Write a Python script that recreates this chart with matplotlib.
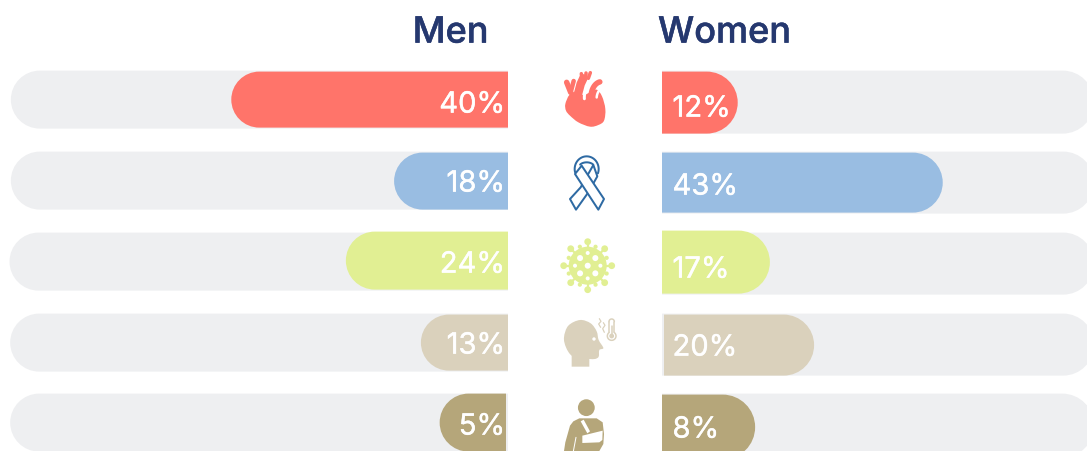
import matplotlib
matplotlib.use('Agg')
import matplotlib.pyplot as plt
import matplotlib.patheffects as pe
from matplotlib.patches import PathPatch, Polygon, Circle
from matplotlib.path import Path
import numpy as np

plt.rcParams['font.family'] = ['Inter', 'DejaVu Sans']

men_labels = ['40%', '18%', '24%', '13%', '5%']
women_labels = ['12%', '43%', '17%', '20%', '8%']
# bar lengths as drawn in the picture, they do not follow the labels exactly
men_bars = [41.3, 17.0, 24.2, 13.0, 9.9]
women_bars = [11.3, 41.9, 16.1, 22.4, 13.9]
colors = ['#FF746A', '#99BDE2', '#E1EF93', '#DAD1BC', '#B5A67A']

W, H = 1087, 452
PX = 6.7  # pixels per unit on the x axes
SHIFT = 0.6
TRACK = '#EEEFF1'
NAVY = '#25386F'

fig = plt.figure(figsize=(W / 100, H / 100), dpi=100)


def pill(ax, start, length, top, bottom, color, z=2):
    # bar square at the start, fully round at the far end
    ry = (bottom - top) / 2
    rx = ry / PX
    k = 0.5523
    end = start + length
    verts = [(start, top), (end - rx, top),
             (end - rx + k * rx, top), (end, top + ry - k * ry), (end, top + ry),
             (end, top + ry + k * ry), (end - rx + k * rx, bottom), (end - rx, bottom),
             (start, bottom), (start, top)]
    codes = [Path.MOVETO, Path.LINETO, Path.CURVE4, Path.CURVE4, Path.CURVE4,
             Path.CURVE4, Path.CURVE4, Path.CURVE4, Path.LINETO, Path.CLOSEPOLY]
    ax.add_patch(PathPatch(Path(verts, codes), fc=color, ec='none', zorder=z))


def side_axes(left, right, xlim):
    ax = fig.add_axes([left / W, 0, (right - left) / W, 1])
    ax.set_xlim(*xlim)
    ax.set_ylim(H - SHIFT, -SHIFT)
    ax.axis('off')
    return ax


ax_men = side_axes(0, 508, (508 / PX, 0))
ax_women = side_axes(662, W, (0, (W - 662) / PX))

# layout of the rows, top and bottom in pixels
men_track_y = [(71, 129), (152, 210), (233, 291), (314, 372), (394, 452)]
men_track_len = [74.2, 74.2, 74.4, 74.3, 74.3]
men_bar_y = [(72, 128), (153, 210), (232, 290), (315, 371), (394, 452)]
men_start = [0, 0, 0, 0, 0.3]
men_base = [113, 192, 273, 354, 435]
women_track_y = [(71, 134), (152, 214), (233, 295), (314, 376), (394, 458)]
women_bar_y = [(72, 134), (153, 213), (231, 294), (315, 376), (395, 460)]
women_start = [0, 0, 0, 0.3, 0]
women_base = [117, 195, 278, 356, 438]
thick = [pe.withStroke(linewidth=0.3, foreground='white')]

for i in range(5):
    pill(ax_men, 0, men_track_len[i], *men_track_y[i], TRACK, 1)
    pill(ax_men, men_start[i], men_bars[i], *men_bar_y[i], colors[i])
    ax_men.text(3 / PX, men_base[i], men_labels[i], color='white', fontsize=21,
                ha='right', va='baseline', zorder=3, path_effects=thick)
    pill(ax_women, 0, 64.5, *women_track_y[i], TRACK, 1)
    pill(ax_women, women_start[i], women_bars[i], *women_bar_y[i], colors[i])
    ax_women.text(10.5 / PX, women_base[i], women_labels[i], color='white', fontsize=21,
                  ha='left', va='baseline', zorder=3, path_effects=thick)

# overlay in pixels for the headers and icons
ov = fig.add_axes([0, 0, 1, 1], facecolor='none')
ov.set_xlim(0, W)
ov.set_ylim(H, 0)
ov.axis('off')
bold = [pe.withStroke(linewidth=0.35, foreground=NAVY)]
ov.text(488.5, 43.6, 'Men', color=NAVY, fontsize=26, fontweight='medium', ha='right', va='baseline',
        path_effects=bold)
ov.text(658, 43.6, 'Women', color=NAVY, fontsize=26, fontweight='medium', ha='left', va='baseline',
        path_effects=bold)


def blob(pts, color, ox, oy, ec='none', lw=0):
    # closed smooth shape through points taken from 3x crops
    p = np.array(pts, float) / 3 + (ox, oy)
    n = len(p)
    verts = [p[0]]
    codes = [Path.MOVETO]
    for j in range(n):
        a, b, c, d = p[j - 1], p[j], p[(j + 1) % n], p[(j + 2) % n]
        verts += [b + (c - a) / 6, c - (d - b) / 6, c]
        codes += [Path.CURVE4] * 3
    ov.add_patch(PathPatch(Path(verts, codes), fc=color, ec=ec, lw=lw, zorder=5))


def stroke(pts, color, lw, ox, oy, z=6):
    p = np.array(pts, float) / 3 + (ox, oy)
    ov.plot(p[:, 0], p[:, 1], color=color, lw=lw * 0.72, solid_capstyle='round',
            solid_joinstyle='round', zorder=z)


def poly(pts, ox, oy, fc, ec='none', lw=0, z=5):
    p = np.array(pts, float) / 3 + (ox, oy)
    ov.add_patch(Polygon(p, closed=True, fc=fc, ec=ec, lw=lw * 0.72, joinstyle='round', zorder=z))


def arc(cx, cy, rx, ry, a0, a1):
    t = np.radians(np.linspace(a0, a1, 30))
    return np.column_stack([cx + rx * np.cos(t), cy - ry * np.sin(t)])


# heart
o = (540, 60)
c = colors[0]
blob([(76, 135), (88, 108), (108, 98), (130, 108), (150, 100), (170, 92), (186, 112), (196, 150),
      (192, 185), (175, 198), (150, 203), (115, 190), (90, 170), (78, 155)], c, *o)
stroke([(92, 100), (80, 70)], c, 5.5, *o)
stroke([(92, 100), (101, 66)], c, 4.5, *o)
stroke([(114, 105), (122, 75), (130, 58)], c, 8.5, *o)
stroke([(125, 55), (124, 44)], c, 3.5, *o)
stroke([(137, 55), (137, 41)], c, 3.5, *o)
stroke([(145, 58), (151, 41)], c, 3.5, *o)
stroke(arc(178, 115, 45, 50, 110, 185), 'white', 3, *o)
stroke(arc(185, 115, 32, 47, 100, 180), c, 5.5, *o, z=7)
stroke(arc(190, 118, 20, 30, 100, 175), 'white', 2.5, *o, z=7)

# ribbon
o = (540, 60)
c = '#2E6AA3'
poly([(160, 318), (122, 385), (90, 420), (108, 452), (145, 400), (172, 352)], *o, 'white', c, 2, 5)
poly([(105, 345), (175, 452), (192, 420), (125, 320)], *o, 'white', c, 2, 6)
stroke(arc(140, 330, 36, 38, 195, -20), c, 2, *o, z=7)
stroke(arc(140, 326, 24, 16, 145, 35), c, 2, *o, z=7)

# virus
c = colors[2]
cx, cy = 587.7, 266.7
ov.add_patch(Circle((cx, cy), 19, fc=c, ec='none', zorder=5))
for a in np.arange(0, 360, 45):
    dx, dy = np.cos(np.radians(a)), np.sin(np.radians(a))
    ov.plot([cx, cx + 24 * dx], [cy, cy + 24 * dy], color=c, lw=1.6, zorder=5)
    ov.add_patch(Circle((cx + 24 * dx, cy + 24 * dy), 3.4, fc=c, ec='none', zorder=5))
    dx, dy = np.cos(np.radians(a + 22.5)), np.sin(np.radians(a + 22.5))
    ov.add_patch(Circle((cx + 20.5 * dx, cy + 20.5 * dy), 2.1, fc=c, ec='none', zorder=5))
ov.add_patch(Circle((cx, cy), 3, fc='white', ec='none', zorder=6))
for a in (45, 135, 225, 315):
    ov.add_patch(Circle((cx + 10.8 * np.cos(np.radians(a)), cy + 10.8 * np.sin(np.radians(a))),
                        3, fc='white', ec='none', zorder=6))
for a in (0, 90, 180, 270):
    ov.add_patch(Circle((cx + 12.7 * np.cos(np.radians(a)), cy + 12.7 * np.sin(np.radians(a))),
                        2, fc='white', ec='none', zorder=6))

# head with thermometer
o = (540, 225)
c = colors[3]
blob([(72, 340), (85, 305), (120, 288), (152, 298), (170, 322), (176, 348), (190, 372), (178, 378),
      (176, 398), (165, 405), (148, 405), (125, 405), (95, 395), (78, 370)], c, *o)
poly([(95, 380), (95, 428), (148, 428), (148, 400), (120, 380)], *o, c)
ov.add_patch(Circle((540 + 162 / 3, 225 + 345 / 3), 1.7, fc='white', ec='none', zorder=6))
stroke(arc(215, 293, 8, 8, 180, 0), c, 1.5, *o)
stroke([(207, 293), (207, 325)], c, 1.5, *o)
stroke([(223, 293), (223, 325)], c, 1.5, *o)
stroke(arc(215, 336, 13, 13, 125, 415), c, 1.5, *o)
ov.add_patch(Circle((540 + 215 / 3, 225 + 336 / 3), 2.4, fc=c, ec='none', zorder=6))
stroke([(215, 305), (215, 335)], c, 1.5, *o)
stroke([(178, 284), (183, 292), (176, 300), (182, 310)], c, 1.2, *o)
stroke([(190, 296), (195, 304), (188, 314), (193, 325)], c, 1.2, *o)

# person with sling, cut off by the bottom edge
o = (540, 225)
c = colors[4]
ov.add_patch(Circle((540 + 139 / 3, 225 + 551 / 3), 8.4, fc=c, ec='none', zorder=5))
poly([(118, 583), (170, 583), (188, 595), (192, 630), (190, 660), (178, 681), (72, 681), (76, 655),
      (90, 605), (100, 592)], *o, c)
poly([(122, 592), (131, 587), (150, 622), (142, 628)], *o, 'white', z=6)
poly([(127, 635), (188, 620), (187, 648), (178, 655), (127, 657)], *o, 'white', z=6)
stroke([(108, 640), (100, 682)], 'white', 1, *o)

fig.savefig('out.png', dpi=100)
